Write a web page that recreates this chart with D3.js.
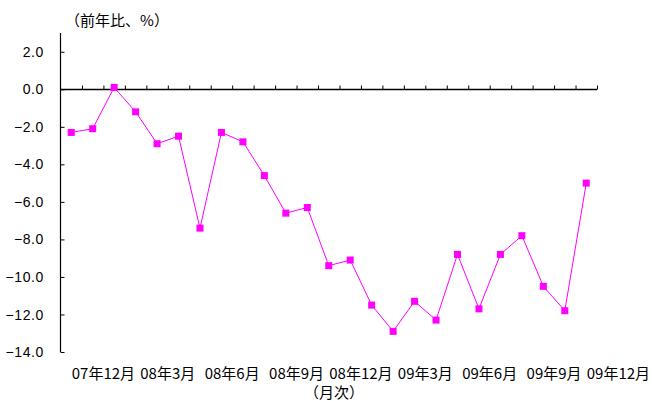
<!DOCTYPE html>
<html>
<head>
<meta charset="utf-8">
<script src="https://cdn.jsdelivr.net/npm/d3@7/dist/d3.min.js"></script>
<style>
  html, body { margin: 0; padding: 0; background: #fff; }
  svg { display: block; }
  .num { font-family: "Liberation Sans", Arial, sans-serif; font-size: 14px; letter-spacing: 0.6px; fill: #000; }
  .jp { font-family: "Noto Sans CJK JP", sans-serif; font-size: 15px; fill: #000; }
  .cap { font-family: "Noto Sans CJK JP", sans-serif; font-size: 15px; fill: #000; }
</style>
</head>
<body>
<svg id="chart" width="652" height="401"></svg>
<script>
// Monthly year-on-year change (%), Oct 2007 – Oct 2009
const categories = [
  "07年10月", "07年11月", "07年12月", "08年1月", "08年2月", "08年3月",
  "08年4月", "08年5月", "08年6月", "08年7月", "08年8月", "08年9月",
  "08年10月", "08年11月", "08年12月", "09年1月", "09年2月", "09年3月",
  "09年4月", "09年5月", "09年6月", "09年7月", "09年8月", "09年9月",
  "09年10月"
];
const values = [
  -2.3, -2.1, 0.1, -1.2, -2.9, -2.5,
  -7.4, -2.3, -2.8, -4.6, -6.6, -6.3,
  -9.4, -9.1, -11.5, -12.9, -11.3, -12.3,
  -8.8, -11.7, -8.8, -7.8, -10.5, -11.8,
  -5.0
];
const xTickLabels = ["07年12月", "08年3月", "08年6月", "08年9月", "08年12月",
                     "09年3月", "09年6月", "09年9月", "09年12月"];
const yTicks = [2, 0, -2, -4, -6, -8, -10, -12, -14];
const unitLabel = "（前年比、%）";
const periodLabel = "（月次）";

(function () {
  const svg = d3.select("#chart");
  const plotLeft = 60.5, plotRight = 597, plotTop = 33, plotBottom = 352;

  // x: category boundaries 0..n, points sit at the middle of each slot
  const x = d3.scaleLinear().domain([0, categories.length]).range([plotLeft, plotRight]);
  const y = d3.scaleLinear().domain([-14, 3]).range([plotBottom, plotTop]);

  // y axis (ticks pointing inward)
  const yAxis = d3.axisRight(y).tickValues(yTicks).tickSize(4).tickFormat("");
  const gy = svg.append("g").attr("transform", `translate(${plotLeft},0)`).call(yAxis);
  gy.select(".domain").remove();
  gy.selectAll("line").attr("stroke", "#000");
  svg.append("line")
    .attr("x1", plotLeft).attr("x2", plotLeft)
    .attr("y1", y(3)).attr("y2", y(-14))
    .attr("stroke", "#000").attr("stroke-width", 1.2);

  svg.append("g").selectAll("text")
    .data(yTicks)
    .join("text")
    .attr("class", "num")
    .attr("x", 44)
    .attr("y", d => y(d))
    .attr("dy", "0.36em")
    .attr("text-anchor", "end")
    .text(d => d3.format(".1f")(d).replace("-", "\u2212"));

  // x axis along the zero line, ticks pointing up at slot boundaries
  const y0 = Math.round(y(0)) + 0.5;
  const boundaries = d3.range(1, categories.length + 1);
  const xAxis = d3.axisTop(x).tickValues(boundaries).tickSize(4).tickFormat("");
  const gx = svg.append("g").attr("transform", `translate(0,${y0})`).call(xAxis);
  gx.select(".domain").remove();
  gx.selectAll("line").attr("stroke", "#000");
  svg.append("line")
    .attr("x1", plotLeft).attr("x2", plotRight)
    .attr("y1", y0).attr("y2", y0)
    .attr("stroke", "#000").attr("stroke-width", 1.5);

  // category labels every third slot
  svg.append("g").selectAll("text")
    .data(xTickLabels)
    .join("text")
    .attr("class", "jp")
    .attr("x", (d, i) => x(2 + 3 * i))
    .attr("y", 379)
    .attr("text-anchor", "middle")
    .text(d => d);

  // series line and square markers
  const cx = i => x(i + 0.5);
  svg.append("path")
    .datum(values)
    .attr("fill", "none")
    .attr("stroke", "#ff00ff")
    .attr("stroke-width", 1)
    .attr("d", d3.line().x((d, i) => cx(i)).y(d => y(d)));

  const ms = 7;
  svg.append("g").selectAll("rect")
    .data(values)
    .join("rect")
    .attr("x", (d, i) => cx(i) - ms / 2)
    .attr("y", d => y(d) - ms / 2)
    .attr("width", ms)
    .attr("height", ms)
    .attr("fill", "#ff00ff");

  // unit and period captions
  svg.append("text").attr("class", "cap")
    .attr("x", 117).attr("y", 26).attr("text-anchor", "middle")
    .text(unitLabel);
  svg.append("text").attr("class", "cap")
    .attr("x", 334).attr("y", 398).attr("text-anchor", "middle")
    .text(periodLabel);
})();
</script>
</body>
</html>
